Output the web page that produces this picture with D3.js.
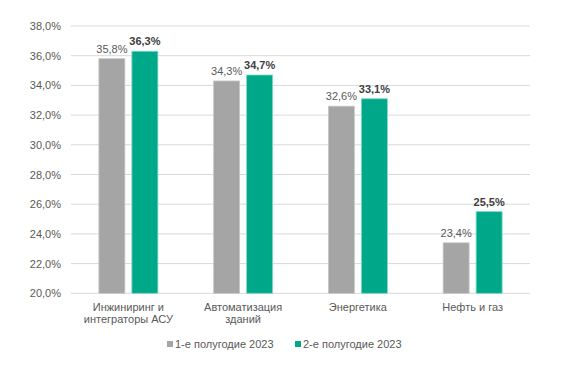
<!DOCTYPE html>
<html><head><meta charset="utf-8">
<script src="https://cdn.jsdelivr.net/npm/d3@7"></script>
<style>body{margin:0;background:#fff}svg{display:block;font-family:"Liberation Sans",Arial,sans-serif}</style>
</head><body>
<svg id="c" width="569" height="369"></svg>
<script>
const categories = [["Инжиниринг и","интеграторы АСУ"],["Автоматизация","зданий"],["Энергетика"],["Нефть и газ"]];
const seriesNames = ["1-е полугодие 2023","2-е полугодие 2023"];
const h1 = [35.8, 34.3, 32.6, 23.4];
const h2 = [36.3, 34.7, 33.1, 25.5];
const yTicks = [20,22,24,26,28,30,32,34,36,38];
const colors = ["#a5a5a5","#00a88a"];

(function(){
const svg = d3.select("#c");
const mL = 71, mR = 530, mT = 26, mB = 293.3;
const fmt = v => v.toFixed(1).replace(".", ",") + "%";
const x0 = d3.scaleBand().domain(categories.map((d,i)=>i)).range([mL,mR]);
const x1 = d3.scaleBand().domain([0,1]).range([-29.5,29.5]).paddingInner(0.212);
const y = d3.scaleLinear().domain([20,38]).range([mB, mT]);

// grid
svg.append("g").selectAll("line").data(yTicks).join("line")
  .attr("x1", mL).attr("x2", mR)
  .attr("y1", d=>y(d)).attr("y2", d=>y(d))
  .attr("stroke", "#d9d9d9").attr("stroke-width", 1);

// y axis labels
const yAxis = d3.axisLeft(y).tickValues(yTicks).tickFormat(d=>fmt(d)).tickSize(0).tickPadding(10);
const ga = svg.append("g").attr("transform", `translate(${mL},0)`).call(yAxis);
ga.select(".domain").remove();
ga.selectAll("text").attr("font-size", 11).attr("fill", "#595959").attr("font-family", "Liberation Sans, Arial, sans-serif");

const data = [h1, h2];
data.forEach((vals, s) => {
  const g = svg.append("g");
  g.selectAll("rect").data(vals).join("rect")
    .attr("x", (d,i)=> x0(i) + x0.bandwidth()/2 + x1(s))
    .attr("width", x1.bandwidth())
    .attr("y", d=>y(d))
    .attr("height", d=> y(20) - y(d))
    .attr("fill", colors[s])
    .attr("stroke", s===0 ? "#c8c8c8" : "#7fd8c6").attr("stroke-width", 0.8);
  g.selectAll("text").data(vals).join("text")
    .attr("x", (d,i)=> x0(i) + x0.bandwidth()/2 + x1(s) + x1.bandwidth()/2)
    .attr("y", d=> y(d) - 6)
    .attr("text-anchor", "middle")
    .attr("font-size", 11)
    .attr("font-weight", s===1 ? "bold" : "normal")
    .attr("fill", s===1 ? "#404040" : "#595959")
    .text(d=>fmt(d));
});

// category labels
const cg = svg.append("g");
categories.forEach((lines, i) => {
  const t = cg.append("text")
    .attr("x", x0(i) + x0.bandwidth()/2)
    .attr("y", 311)
    .attr("text-anchor", "middle")
    .attr("font-size", 11).attr("fill", "#595959");
  lines.forEach((l, k) => t.append("tspan").attr("x", x0(i) + x0.bandwidth()/2).attr("dy", k===0 ? 0 : 12).text(l));
});

// legend
const legX = [167, 295];
seriesNames.forEach((n, s) => {
  svg.append("rect").attr("x", legX[s]).attr("y", 341).attr("width", 6).attr("height", 6).attr("fill", colors[s]);
  svg.append("text").attr("x", legX[s] + 8).attr("y", 348).attr("font-size", 11).attr("fill", "#595959").text(n);
});
})();
</script>
</body></html>
